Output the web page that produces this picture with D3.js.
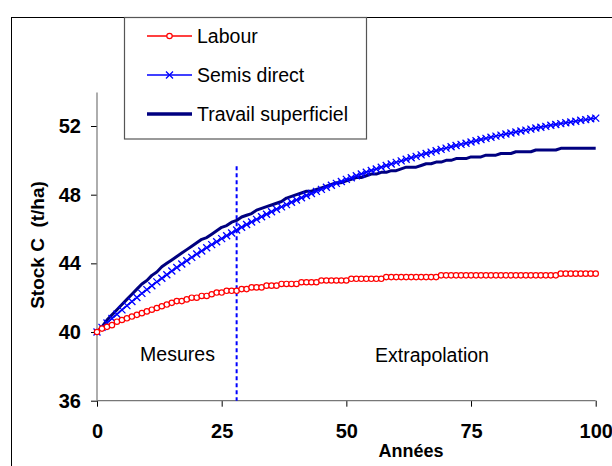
<!DOCTYPE html>
<html>
<head>
<meta charset="utf-8">
<script src="https://cdn.jsdelivr.net/npm/d3@7"></script>
<style>
  body { margin: 0; background: #fff; }
  svg { display: block; font-family: "Liberation Sans", Arial, sans-serif; }
</style>
</head>
<body>
<script>
// years 0..100
var years = d3.range(0, 101);

var labour = [
  40.0,40.2,40.3,40.4,40.6,40.7,40.8,40.9,41.0,41.1,
  41.2,41.3,41.4,41.5,41.6,41.7,41.8,41.8,41.9,42.0,
  42.0,42.1,42.1,42.2,42.3,42.3,42.4,42.4,42.4,42.5,
  42.5,42.6,42.6,42.6,42.7,42.7,42.7,42.8,42.8,42.8,
  42.8,42.9,42.9,42.9,42.9,43.0,43.0,43.0,43.0,43.0,
  43.0,43.1,43.1,43.1,43.1,43.1,43.1,43.1,43.2,43.2,
  43.2,43.2,43.2,43.2,43.2,43.2,43.2,43.2,43.2,43.3,
  43.3,43.3,43.3,43.3,43.3,43.3,43.3,43.3,43.3,43.3,
  43.3,43.3,43.3,43.3,43.3,43.3,43.3,43.3,43.3,43.3,
  43.3,43.3,43.3,43.4,43.4,43.4,43.4,43.4,43.4,43.4,
  43.4
];

var semisDirect = [
  40.00,40.27,40.53,40.79,41.04,41.29,41.54,41.78,42.01,42.25,
  42.47,42.70,42.92,43.13,43.34,43.55,43.76,43.96,44.15,44.35,
  44.54,44.72,44.91,45.09,45.26,45.44,45.61,45.77,45.94,46.10,
  46.26,46.41,46.56,46.71,46.86,47.01,47.15,47.29,47.42,47.56,
  47.69,47.82,47.95,48.07,48.19,48.31,48.43,48.55,48.66,48.77,
  48.89,48.99,49.10,49.20,49.31,49.41,49.50,49.60,49.70,49.79,
  49.88,49.97,50.06,50.15,50.23,50.32,50.40,50.48,50.56,50.64,
  50.71,50.79,50.86,50.93,51.00,51.07,51.14,51.21,51.28,51.34,
  51.41,51.47,51.53,51.59,51.65,51.71,51.76,51.82,51.88,51.93,
  51.98,52.04,52.09,52.14,52.19,52.23,52.28,52.33,52.37,52.42,
  52.46
];

var travailSuperficiel = [
  40.0,40.3,40.7,41.0,41.3,41.6,41.9,42.2,42.5,42.8,
  43.0,43.3,43.5,43.8,44.0,44.2,44.4,44.6,44.8,45.0,
  45.2,45.4,45.5,45.7,45.9,46.1,46.2,46.4,46.5,46.7,
  46.8,46.9,47.1,47.2,47.3,47.4,47.5,47.6,47.8,47.9,
  48.0,48.1,48.2,48.2,48.3,48.4,48.5,48.6,48.7,48.7,
  48.8,48.9,49.0,49.0,49.1,49.2,49.2,49.3,49.3,49.4,
  49.4,49.5,49.6,49.6,49.6,49.7,49.8,49.8,49.9,49.9,
  50.0,50.0,50.1,50.1,50.1,50.2,50.2,50.2,50.3,50.3,
  50.3,50.4,50.4,50.4,50.5,50.5,50.5,50.5,50.6,50.6,
  50.6,50.6,50.6,50.7,50.7,50.7,50.7,50.7,50.7,50.7,
  50.7
];

var xTicks = [0, 25, 50, 75, 100];
var yTicks = [36, 40, 44, 48, 52];
var splitYear = 28;

var width = 612, height = 466;

var svg = d3.select("body").append("svg")
  .attr("width", width).attr("height", height);

// outer frame (runs off the right and bottom edge)
svg.append("rect")
  .attr("x", 11.5).attr("y", 17.5)
  .attr("width", 700).attr("height", 600)
  .attr("fill", "none").attr("stroke", "#000").attr("stroke-width", 1);

var x = d3.scaleLinear().domain([0, 100]).range([97, 595.7]);
var y = d3.scaleLinear().domain([36, 52]).range([400.7, 126]);

// axes
var xAxis = svg.append("g")
  .attr("transform", "translate(0," + y(36) + ")")
  .call(d3.axisBottom(x).tickValues(xTicks).tickSize(6).tickPadding(17).tickFormat(d3.format("d")));
var yAxis = svg.append("g")
  .attr("transform", "translate(" + x(0) + ",0)")
  .call(d3.axisLeft(y).tickValues(yTicks).tickSize(6).tickPadding(10).tickFormat(d3.format("d")));

[xAxis, yAxis].forEach(function(a){
  a.select(".domain").remove();
  a.selectAll("line").attr("stroke", "#000");
  a.selectAll("text").attr("font-size", 20).attr("font-weight", "bold")
    .attr("font-family", "Liberation Sans, Arial, sans-serif").attr("fill", "#000");
});

// axis lines
svg.append("line")
  .attr("x1", x(0)).attr("x2", x(0)).attr("y1", y(53.95)).attr("y2", y(36))
  .attr("stroke", "#777").attr("stroke-width", 1.2);
svg.append("line")
  .attr("x1", x(0)).attr("x2", x(100)).attr("y1", y(36)).attr("y2", y(36))
  .attr("stroke", "#777").attr("stroke-width", 1.2);

// axis titles
svg.append("text")
  .attr("transform", "translate(44,245) rotate(-90)")
  .attr("text-anchor", "middle")
  .attr("font-size", 19).attr("font-weight", "bold")
  .attr("xml:space", "preserve")
  .text("Stock C  (t/ha)");

svg.append("text")
  .attr("x", 411).attr("y", 457)
  .attr("text-anchor", "middle")
  .attr("font-size", 18).attr("font-weight", "bold")
  .text("Années");

// split line
svg.append("line")
  .attr("x1", x(splitYear)).attr("x2", x(splitYear))
  .attr("y1", y(49.65)).attr("y2", y(36))
  .attr("stroke", "#0000ff").attr("stroke-width", 2)
  .attr("stroke-dasharray", "4,3");

svg.append("text")
  .attr("x", 177.5).attr("y", 361)
  .attr("text-anchor", "middle").attr("font-size", 19.5)
  .text("Mesures");
svg.append("text")
  .attr("x", 432).attr("y", 361.5)
  .attr("text-anchor", "middle").attr("font-size", 19.5)
  .text("Extrapolation");

var line = function(vals){
  return d3.line().x(function(d, i){ return x(years[i]); }).y(function(d){ return y(d); })(vals);
};

// series
svg.append("path").attr("d", line(travailSuperficiel))
  .attr("fill", "none").attr("stroke", "#000080").attr("stroke-width", 3)
  .attr("stroke-linejoin", "round");

svg.append("path").attr("d", line(semisDirect))
  .attr("fill", "none").attr("stroke", "#0000ff").attr("stroke-width", 1.5);

svg.append("g").selectAll("path")
  .data(semisDirect)
  .enter().append("path")
    .attr("d", function(d, i){
      var cx = x(years[i]), cy = y(d), s = 3.5;
      return "M" + (cx - s) + "," + (cy - s) + "L" + (cx + s) + "," + (cy + s) +
             "M" + (cx - s) + "," + (cy + s) + "L" + (cx + s) + "," + (cy - s);
    })
    .attr("stroke", "#0000ff").attr("stroke-width", 1.3);

svg.append("path").attr("d", line(labour))
  .attr("fill", "none").attr("stroke", "#ff0000").attr("stroke-width", 1.5);

svg.append("g").selectAll("circle")
  .data(labour)
  .enter().append("circle")
    .attr("cx", function(d, i){ return x(years[i]); })
    .attr("cy", function(d){ return y(d); })
    .attr("r", 2.7)
    .attr("fill", "#fff").attr("stroke", "#ff0000").attr("stroke-width", 1.2);

// legend
var legend = svg.append("g");
legend.append("rect")
  .attr("x", 124.5).attr("y", 17.5).attr("width", 242).attr("height", 121.5)
  .attr("fill", "#fff").attr("stroke", "#555").attr("stroke-width", 1.2);

var legendNames = ["Labour", "Semis direct", "Travail superficiel"];
var legendColors = ["#ff0000", "#0000ff", "#000080"];
var legendWidths = [1.5, 1.5, 3.5];
var legendY = [36, 75, 114];

legendNames.forEach(function(name, i){
  var ly = legendY[i];
  legend.append("line")
    .attr("x1", 147).attr("x2", 192).attr("y1", ly).attr("y2", ly)
    .attr("stroke", legendColors[i]).attr("stroke-width", legendWidths[i]);
  if (i === 0) {
    legend.append("circle").attr("cx", 169.5).attr("cy", ly).attr("r", 2.7)
      .attr("fill", "#fff").attr("stroke", "#ff0000").attr("stroke-width", 1.2);
  }
  if (i === 1) {
    legend.append("path")
      .attr("d", "M166,71.5L173,78.5M166,78.5L173,71.5")
      .attr("stroke", "#0000ff").attr("stroke-width", 1.3);
  }
  legend.append("text")
    .attr("x", 197).attr("y", ly + 6.5)
    .attr("font-size", 19.5)
    .text(name);
});
</script>
</body>
</html>
